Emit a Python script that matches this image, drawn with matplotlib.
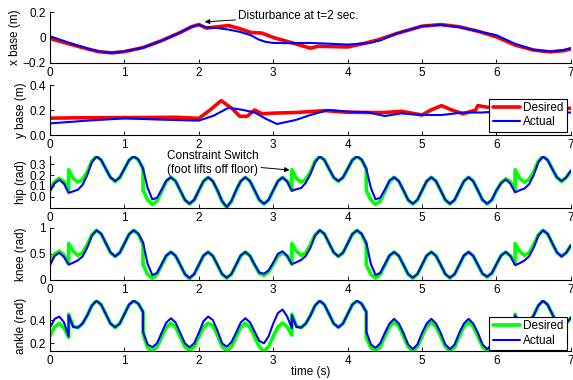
import matplotlib
matplotlib.use('Agg')
import matplotlib.pyplot as plt

plt.rcParams['font.family'] = ['Liberation Sans', 'DejaVu Sans']
plt.rcParams['font.size'] = 8.5
plt.rcParams['lines.solid_joinstyle'] = 'round'
plt.rcParams['lines.solid_capstyle'] = 'round'

# ---- base position (m) ----
xbase_t_des = [0, 0.25, 0.5, 0.65, 0.83, 1.0, 1.25, 1.5, 1.75, 1.9, 2.0, 2.1, 2.25, 2.4, 2.55,
               2.7, 2.85, 3.0, 3.3, 3.5, 3.6, 3.8, 4.0, 4.2, 4.4, 4.66, 5.0, 5.25, 5.5, 5.75,
               6.0, 6.25, 6.5, 6.72, 6.9, 7.0]
xbase_des = [-0.008, -0.05, -0.09, -0.112, -0.122, -0.112, -0.08, -0.025, 0.04, 0.085, 0.103,
             0.075, 0.085, 0.095, 0.07, 0.04, 0.035, 0.0, -0.05, -0.085, -0.07, -0.072, -0.075,
             -0.05, -0.02, 0.032, 0.09, 0.103, 0.085, 0.05, 0.005, -0.06, -0.1, -0.114, -0.105, -0.09]
xbase_t_act = [0, 0.25, 0.5, 0.65, 0.83, 1.0, 1.25, 1.5, 1.75, 1.9, 2.0, 2.1, 2.25, 2.4, 2.55,
               2.7, 2.8, 2.9, 3.0, 3.2, 3.5, 3.7, 4.0, 4.3, 4.45, 4.66, 5.0, 5.25, 5.5, 5.75,
               6.0, 6.25, 6.5, 6.72, 6.9, 7.0]
xbase_act = [0.01, -0.04, -0.087, -0.11, -0.122, -0.11, -0.08, -0.025, 0.04, 0.085, 0.1,
             0.08, 0.075, 0.063, 0.045, 0.018, -0.015, -0.035, -0.043, -0.045, -0.043, -0.048,
             -0.056, -0.043, -0.02, 0.032, 0.09, 0.1, 0.083, 0.05, 0.018, -0.05, -0.097, -0.112,
             -0.1, -0.085]

ybase_t_des = [0, 0.5, 1.0, 1.3, 1.7, 2.0, 2.15, 2.3, 2.45, 2.55, 2.65, 2.75, 2.85, 3.0, 3.3,
               3.7, 4.0, 4.3, 4.5, 4.72, 5.0, 5.12, 5.26, 5.4, 5.55, 5.72, 5.75, 5.9, 6.2, 6.6, 7.0]
ybase_des = [0.135, 0.138, 0.14, 0.14, 0.142, 0.133, 0.2, 0.275, 0.21, 0.15, 0.15, 0.2, 0.17,
             0.175, 0.18, 0.195, 0.182, 0.18, 0.18, 0.19, 0.16, 0.2, 0.235, 0.2, 0.17, 0.2, 0.235,
             0.22, 0.22, 0.215, 0.213]
ybase_t_act = [0, 0.5, 1.0, 1.5, 2.0, 2.2, 2.4, 2.6, 2.75, 2.9, 3.05, 3.3, 3.5, 3.74, 4.0, 4.27,
               4.5, 4.72, 5.0, 5.26, 5.55, 5.8, 6.0, 6.5, 7.0]
ybase_act = [0.093, 0.115, 0.133, 0.123, 0.115, 0.155, 0.218, 0.2, 0.18, 0.13, 0.088, 0.12, 0.16,
             0.2, 0.187, 0.182, 0.152, 0.173, 0.16, 0.16, 0.18, 0.18, 0.187, 0.18, 0.18]

# ---- joint angles (rad), one row per half second ----
joint_t = [
    0, 0.0625, 0.125, 0.1875, 0.25, 0.25, 0.3125, 0.375, 0.4375,
    0.5, 0.5625, 0.625, 0.6875, 0.75, 0.8125, 0.875, 0.9375,
    1.0, 1.0625, 1.125, 1.1875, 1.25, 1.25, 1.3125, 1.375, 1.4375,
    1.5, 1.5625, 1.625, 1.6875, 1.75, 1.8125, 1.875, 1.9375,
    2.0, 2.0625, 2.125, 2.1875, 2.25, 2.3125, 2.375, 2.4375,
    2.5, 2.5625, 2.625, 2.6875, 2.75, 2.8125, 2.875, 2.9375,
    3.0, 3.0625, 3.125, 3.1875, 3.25, 3.25, 3.3125, 3.375, 3.4375,
    3.5, 3.5625, 3.625, 3.6875, 3.75, 3.8125, 3.875, 3.9375,
    4.0, 4.0625, 4.125, 4.1875, 4.25, 4.25, 4.3125, 4.375, 4.4375,
    4.5, 4.5625, 4.625, 4.6875, 4.75, 4.8125, 4.875, 4.9375,
    5.0, 5.0625, 5.125, 5.1875, 5.25, 5.3125, 5.375, 5.4375,
    5.5, 5.5625, 5.625, 5.6875, 5.75, 5.8125, 5.875, 5.9375,
    6.0, 6.0625, 6.125, 6.1875, 6.25, 6.25, 6.3125, 6.375, 6.4375,
    6.5, 6.5625, 6.625, 6.6875, 6.75, 6.8125, 6.875, 6.9375, 7.0,
]

hip_des = [
    0.07, 0.14, 0.17, 0.14, 0.06, 0.25, 0.17, 0.135, 0.16,
    0.23, 0.33, 0.374, 0.34, 0.258, 0.176, 0.142, 0.176,
    0.258, 0.34, 0.374, 0.34, 0.26, 0.06, -0.03, -0.072, -0.04,
    0.05, 0.14, 0.18, 0.144, 0.056, -0.032, -0.068, -0.032,
    0.056, 0.144, 0.18, 0.144, 0.056, -0.045, -0.098, -0.045,
    0.056, 0.144, 0.18, 0.144, 0.056, -0.032, -0.068, -0.032,
    0.056, 0.144, 0.18, 0.144, 0.06, 0.25, 0.17, 0.135, 0.16,
    0.23, 0.33, 0.374, 0.34, 0.258, 0.176, 0.142, 0.176,
    0.258, 0.34, 0.374, 0.34, 0.26, 0.06, -0.03, -0.072, -0.04,
    0.05, 0.14, 0.18, 0.144, 0.056, -0.032, -0.068, -0.032,
    0.056, 0.144, 0.18, 0.144, 0.056, -0.032, -0.068, -0.032,
    0.056, 0.144, 0.18, 0.144, 0.056, -0.032, -0.068, -0.032,
    0.056, 0.13, 0.165, 0.14, 0.06, 0.25, 0.17, 0.135, 0.16,
    0.23, 0.33, 0.374, 0.34, 0.258, 0.176, 0.142, 0.176, 0.24,
]
hip_act = [
    0.05, 0.125, 0.157, 0.12, 0.035, 0.035, 0.05, 0.065, 0.11,
    0.20, 0.32, 0.372, 0.34, 0.258, 0.18, 0.145, 0.18,
    0.258, 0.34, 0.372, 0.345, 0.26, 0.26, 0.08, -0.025, -0.01,
    0.065, 0.15, 0.18, 0.144, 0.06, -0.028, -0.065, -0.028,
    0.06, 0.144, 0.18, 0.144, 0.06, -0.04, -0.095, -0.04,
    0.06, 0.144, 0.18, 0.144, 0.06, -0.028, -0.065, -0.028,
    0.06, 0.144, 0.178, 0.14, 0.055, 0.055, 0.07, 0.08, 0.13,
    0.21, 0.32, 0.372, 0.34, 0.258, 0.18, 0.145, 0.18,
    0.258, 0.34, 0.372, 0.345, 0.26, 0.26, 0.08, -0.025, -0.01,
    0.065, 0.15, 0.18, 0.144, 0.06, -0.028, -0.065, -0.028,
    0.06, 0.144, 0.18, 0.144, 0.06, -0.028, -0.065, -0.028,
    0.06, 0.144, 0.18, 0.144, 0.06, -0.028, -0.065, -0.028,
    0.06, 0.125, 0.16, 0.12, 0.04, 0.04, 0.06, 0.075, 0.115,
    0.20, 0.32, 0.372, 0.34, 0.258, 0.18, 0.145, 0.18, 0.24,
]

knee_des = [
    0.34, 0.50, 0.55, 0.48, 0.31, 0.70, 0.55, 0.47, 0.52,
    0.68, 0.87, 0.955, 0.881, 0.70, 0.524, 0.45, 0.524,
    0.70, 0.881, 0.955, 0.88, 0.68, 0.29, 0.10, 0.03, 0.10,
    0.283, 0.461, 0.535, 0.461, 0.283, 0.104, 0.02, 0.104,
    0.283, 0.461, 0.535, 0.461, 0.283, 0.104, 0.03, 0.104,
    0.283, 0.461, 0.535, 0.461, 0.283, 0.12, 0.085, 0.15,
    0.30, 0.46, 0.52, 0.46, 0.30, 0.70, 0.55, 0.47, 0.52,
    0.68, 0.87, 0.955, 0.881, 0.70, 0.524, 0.45, 0.524,
    0.70, 0.881, 0.955, 0.88, 0.68, 0.29, 0.10, 0.03, 0.10,
    0.283, 0.461, 0.535, 0.461, 0.283, 0.104, 0.03, 0.104,
    0.283, 0.461, 0.535, 0.461, 0.283, 0.104, 0.03, 0.104,
    0.283, 0.461, 0.535, 0.461, 0.283, 0.11, 0.05, 0.12,
    0.30, 0.47, 0.535, 0.46, 0.32, 0.70, 0.55, 0.47, 0.52,
    0.68, 0.87, 0.955, 0.881, 0.70, 0.524, 0.45, 0.524, 0.665,
]
knee_act = [
    0.28, 0.46, 0.52, 0.44, 0.29, 0.29, 0.33, 0.375, 0.45,
    0.62, 0.85, 0.955, 0.89, 0.71, 0.53, 0.45, 0.52,
    0.70, 0.88, 0.955, 0.89, 0.72, 0.72, 0.30, 0.09, 0.13,
    0.30, 0.47, 0.535, 0.46, 0.29, 0.11, 0.035, 0.11,
    0.29, 0.47, 0.535, 0.46, 0.29, 0.11, 0.04, 0.11,
    0.29, 0.47, 0.535, 0.46, 0.29, 0.14, 0.115, 0.18,
    0.33, 0.50, 0.55, 0.46, 0.30, 0.30, 0.34, 0.38, 0.46,
    0.62, 0.85, 0.955, 0.89, 0.71, 0.53, 0.45, 0.52,
    0.70, 0.88, 0.955, 0.89, 0.72, 0.72, 0.30, 0.09, 0.13,
    0.30, 0.47, 0.535, 0.46, 0.29, 0.11, 0.04, 0.11,
    0.29, 0.47, 0.535, 0.46, 0.29, 0.11, 0.04, 0.11,
    0.29, 0.47, 0.535, 0.46, 0.29, 0.12, 0.06, 0.13,
    0.30, 0.47, 0.535, 0.46, 0.28, 0.28, 0.32, 0.37, 0.45,
    0.62, 0.85, 0.955, 0.89, 0.71, 0.53, 0.45, 0.52, 0.665,
]

ankle_des = [
    0.265, 0.34, 0.37, 0.33, 0.25, 0.45, 0.345, 0.335, 0.37,
    0.44, 0.525, 0.565, 0.532, 0.451, 0.37, 0.337, 0.37,
    0.451, 0.532, 0.565, 0.54, 0.47, 0.28, 0.16, 0.133, 0.17,
    0.254, 0.337, 0.372, 0.337, 0.254, 0.17, 0.135, 0.17,
    0.254, 0.337, 0.372, 0.35, 0.27, 0.17, 0.133, 0.17,
    0.254, 0.337, 0.372, 0.337, 0.254, 0.17, 0.133, 0.17,
    0.26, 0.34, 0.375, 0.34, 0.27, 0.45, 0.345, 0.335, 0.37,
    0.44, 0.525, 0.565, 0.532, 0.451, 0.37, 0.337, 0.37,
    0.451, 0.532, 0.565, 0.54, 0.47, 0.25, 0.16, 0.137, 0.17,
    0.26, 0.345, 0.38, 0.345, 0.26, 0.17, 0.133, 0.17,
    0.26, 0.345, 0.38, 0.345, 0.26, 0.17, 0.133, 0.17,
    0.26, 0.345, 0.38, 0.345, 0.26, 0.17, 0.133, 0.17,
    0.26, 0.34, 0.37, 0.33, 0.26, 0.45, 0.345, 0.335, 0.37,
    0.44, 0.525, 0.565, 0.532, 0.451, 0.37, 0.337, 0.37, 0.42,
]
ankle_act = [
    0.337, 0.41, 0.43, 0.38, 0.26, 0.44, 0.34, 0.335, 0.37,
    0.44, 0.525, 0.565, 0.532, 0.451, 0.37, 0.337, 0.37,
    0.451, 0.532, 0.565, 0.54, 0.47, 0.30, 0.19, 0.166, 0.2,
    0.29, 0.378, 0.415, 0.378, 0.29, 0.2, 0.165, 0.2,
    0.29, 0.39, 0.43, 0.40, 0.31, 0.2, 0.17, 0.21,
    0.29, 0.378, 0.415, 0.38, 0.30, 0.22, 0.2, 0.26,
    0.37, 0.46, 0.49, 0.43, 0.33, 0.44, 0.34, 0.335, 0.37,
    0.44, 0.525, 0.565, 0.532, 0.451, 0.37, 0.337, 0.37,
    0.451, 0.532, 0.565, 0.54, 0.47, 0.30, 0.19, 0.16, 0.2,
    0.29, 0.37, 0.41, 0.37, 0.29, 0.19, 0.15, 0.19,
    0.29, 0.37, 0.41, 0.37, 0.29, 0.19, 0.15, 0.19,
    0.29, 0.37, 0.41, 0.37, 0.29, 0.19, 0.15, 0.19,
    0.29, 0.37, 0.41, 0.37, 0.26, 0.44, 0.34, 0.335, 0.37,
    0.44, 0.525, 0.565, 0.532, 0.451, 0.37, 0.337, 0.37, 0.42,
]

fig = plt.figure(figsize=(5.73, 3.8), dpi=100)

# panel boxes in figure fractions: left, bottom, width, height
left, width = 0.0873, 0.909
bottoms = [0.835, 0.6447, 0.4534, 0.264, 0.0755]
heights = [0.1326, 0.1316, 0.136, 0.136, 0.135]
axes = [fig.add_axes([left, b, width, h]) for b, h in zip(bottoms, heights)]


def style(ax, ylim, yticks, ylabel, labx):
    ax.set_xlim(0, 7)
    ax.set_ylim(*ylim)
    ax.set_xticks(range(8))
    ax.set_yticks(yticks)
    ax.spines['top'].set_visible(False)
    ax.spines['right'].set_visible(False)
    ax.tick_params(direction='in', length=3, width=0.6, labelsize=8.5, pad=3)
    ax.set_ylabel(ylabel, fontsize=8.5)
    ax.yaxis.set_label_coords(labx, 0.5)
    for s in ax.spines.values():
        s.set_linewidth(0.8)


# x base
ax = axes[0]
ax.plot(xbase_t_des, xbase_des, color='#ff0000', lw=2.6)
ax.plot(xbase_t_act, xbase_act, color='#0000ff', lw=1.5)
style(ax, (-0.2, 0.2), [-0.2, 0, 0.2], 'x base (m)', -0.055)
ax.set_yticklabels(['\u22120.2', '0', '0.2'])
ax.annotate('Disturbance at t=2 sec.', xy=(2.08, 0.124), xytext=(2.53, 0.171),
            ha='left', va='center', fontsize=8.5, annotation_clip=False,
            arrowprops=dict(arrowstyle='-|>', color='black', lw=0.7,
                            mutation_scale=7, shrinkA=0, shrinkB=0))

# y base
ax = axes[1]
ax.plot(ybase_t_des, ybase_des, color='#ff0000', lw=2.6, label='Desired')
ax.plot(ybase_t_act, ybase_act, color='#0000ff', lw=1.5, label='Actual')
style(ax, (0, 0.4), [0, 0.2, 0.4], 'y base (m)', -0.044)
leg = ax.legend(loc='lower right', bbox_to_anchor=(0.993, 0.06), fontsize=8.5,
                fancybox=False, framealpha=1, edgecolor='black', borderpad=0.3,
                handlelength=2.3, handletextpad=0.3, labelspacing=0.2, borderaxespad=0)
leg.get_frame().set_linewidth(0.8)

# hip
ax = axes[2]
ax.plot(joint_t, hip_des, color='#00ff00', lw=2.6)
ax.plot(joint_t, hip_act, color='#0000ff', lw=1.5)
style(ax, (-0.102, 0.377), [0, 0.1, 0.2, 0.3], 'hip (rad)', -0.044)
ax.annotate('Constraint Switch\n(foot lifts off floor)', xy=(3.22, 0.247), xytext=(2.8, 0.31),
            ha='right', va='center', fontsize=8.5, annotation_clip=False,
            multialignment='center',
            arrowprops=dict(arrowstyle='-|>', color='black', lw=0.7,
                            mutation_scale=7, shrinkA=0, shrinkB=0))

# knee
ax = axes[3]
ax.plot(joint_t, knee_des, color='#00ff00', lw=2.6)
ax.plot(joint_t, knee_act, color='#0000ff', lw=1.5)
style(ax, (0, 1.0), [0, 0.5, 1], 'knee (rad)', -0.044)
ax.set_yticklabels(['0', '0.5', '1'])

# ankle
ax = axes[4]
ax.plot(joint_t, ankle_des, color='#00ff00', lw=2.6, label='Desired')
ax.plot(joint_t, ankle_act, color='#0000ff', lw=1.5, label='Actual')
style(ax, (0.131, 0.572), [0.2, 0.4], 'ankle (rad)', -0.044)
ax.set_xlabel('time (s)', fontsize=8.5)
ax.xaxis.set_label_coords(0.5, -0.29)
leg = ax.legend(loc='lower right', bbox_to_anchor=(0.993, 0.02), fontsize=8.5,
                fancybox=False, framealpha=1, edgecolor='black', borderpad=0.3,
                handlelength=2.3, handletextpad=0.3, labelspacing=0.2, borderaxespad=0)
leg.get_frame().set_linewidth(0.8)

fig.savefig('out.png', dpi=100)
